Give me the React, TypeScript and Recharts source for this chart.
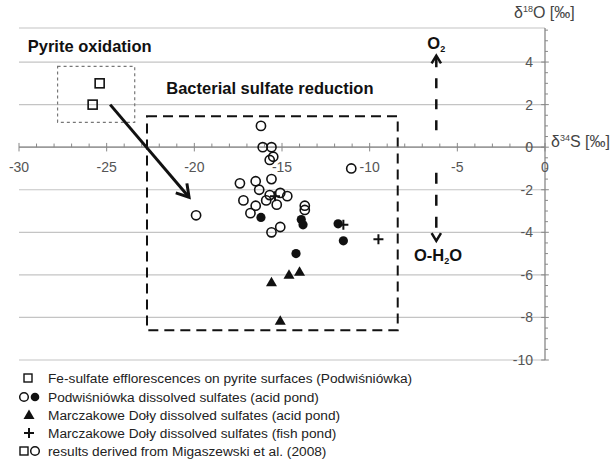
import React from "react";
import {
  ScatterChart,
  Scatter,
  XAxis,
  YAxis,
  CartesianGrid,
  ReferenceLine,
  ReferenceArea,
  ReferenceDot,
} from "recharts";

// axis ticks
const xTicks = [-30, -25, -20, -15, -10, -5, 0];
const xMinorTicks = Array.from({ length: 31 }, (_, i) => -30 + i).filter((v) => v % 5 !== 0);
const yTicks = [-10, -8, -6, -4, -2, 0, 2, 4];
const yMinorTicks = Array.from({ length: 32 }, (_, i) => -10 + i * 0.5).filter((v) => v % 2 !== 0);

// Fe-sulfate efflorescences on pyrite surfaces (Migaszewski et al. 2008)
const feSulfate = [
  { x: -25.4, y: 3.0 },
  { x: -25.8, y: 2.0 },
];

// Podwiśniówka dissolved sulfates, Migaszewski et al. (2008) - open circles
const podwOpen = [
  { x: -16.2, y: 1.0 },
  { x: -16.1, y: 0.0 },
  { x: -15.6, y: 0.0 },
  { x: -15.5, y: -0.45 },
  { x: -15.7, y: -0.6 },
  { x: -15.6, y: -1.5 },
  { x: -17.4, y: -1.7 },
  { x: -16.5, y: -1.6 },
  { x: -16.3, y: -2.0 },
  { x: -15.7, y: -2.25 },
  { x: -15.1, y: -2.15 },
  { x: -14.7, y: -2.3 },
  { x: -17.2, y: -2.5 },
  { x: -16.5, y: -2.75 },
  { x: -15.9, y: -2.5 },
  { x: -15.3, y: -2.7 },
  { x: -16.8, y: -3.1 },
  { x: -15.6, y: -4.0 },
  { x: -15.1, y: -3.75 },
  { x: -13.7, y: -2.75 },
  { x: -13.7, y: -2.95 },
  { x: -11.05, y: -1.0 },
  { x: -19.9, y: -3.2 },
];

// Podwiśniówka dissolved sulfates (acid pond) - filled circles
const podwFilled = [
  { x: -16.2, y: -3.3 },
  { x: -13.9, y: -3.4 },
  { x: -13.8, y: -3.65 },
  { x: -11.8, y: -3.6 },
  { x: -11.5, y: -4.4 },
  { x: -14.2, y: -5.0 },
];

// Marczakowe Doły (acid pond)
const marczAcid = [
  { x: -14.0, y: -5.85 },
  { x: -14.6, y: -6.0 },
  { x: -15.6, y: -6.35 },
  { x: -15.1, y: -8.15 },
];

// Marczakowe Doły (fish pond)
const marczFish = [
  { x: -11.5, y: -3.65 },
  { x: -9.5, y: -4.33 },
  { x: -15.4, y: -2.3 },
];

// annotation boxes and arrows
const pyriteBox = { x1: -27.8, x2: -23.4, y1: 1.17, y2: 3.8 };
const bacterialBox = { x1: -22.7, x2: -8.4, y1: -8.6, y2: 1.45 };
const mainArrow = [{ x: -24.8, y: 2.0 }, { x: -20.3, y: -2.35 }];
const o2Arrow = [{ x: -6.2, y: 0.8 }, { x: -6.2, y: 4.3 }];
const h2oArrow = [{ x: -6.2, y: -1.2 }, { x: -6.2, y: -4.4 }];

const FONT = "'Liberation Sans', Arial, sans-serif";
const INK = "#111";

function arrowShape(width: number, dash?: string, head = 11) {
  return (p: any) => {
    const { x1, y1, x2, y2 } = p;
    const a = Math.atan2(y2 - y1, x2 - x1);
    const s = 0.55;
    const ax = x2 - head * Math.cos(a - s);
    const ay = y2 - head * Math.sin(a - s);
    const bx = x2 - head * Math.cos(a + s);
    const by = y2 - head * Math.sin(a + s);
    return (
      <g>
        <line x1={x1} y1={y1} x2={x2} y2={y2} stroke={INK} strokeWidth={width} strokeDasharray={dash} />
        <polyline points={`${ax},${ay} ${x2},${y2} ${bx},${by}`} fill="none" stroke={INK} strokeWidth={width} />
      </g>
    );
  };
}

function textAt(render: (x: number, y: number) => React.ReactNode) {
  return (p: any) => {
    const vb = p.viewBox || {};
    return render(vb.x + (vb.width || 0) / 2, vb.y + (vb.height || 0) / 2);
  };
}

const openCircle = (p: any) => (
  <circle cx={p.cx} cy={p.cy} r={4.6} fill="none" stroke={INK} strokeWidth={1.6} />
);
const filledCircle = (p: any) => <circle cx={p.cx} cy={p.cy} r={4.6} fill={INK} />;
const openSquare = (p: any) => (
  <rect x={p.cx - 4.5} y={p.cy - 4.5} width={9} height={9} fill="none" stroke={INK} strokeWidth={1.6} />
);
const triangle = (p: any) => (
  <polygon points={`${p.cx},${p.cy - 5.5} ${p.cx + 5.5},${p.cy + 4} ${p.cx - 5.5},${p.cy + 4}`} fill={INK} />
);
const plus = (p: any) => (
  <path d={`M${p.cx - 5},${p.cy}H${p.cx + 5}M${p.cx},${p.cy - 5}V${p.cy + 5}`} stroke={INK} strokeWidth={2} />
);

function LegendRow({ y, symbol, text }: { y: number; symbol: React.ReactNode; text: string }) {
  return (
    <div style={{ position: "absolute", left: 0, top: y - 9, height: 18, display: "flex", alignItems: "center" }}>
      <svg width={44} height={18}>{symbol}</svg>
      <span style={{ marginLeft: 4 }}>{text}</span>
    </div>
  );
}

const boldText = (label: React.ReactNode, anchor: "start" | "middle" = "start") =>
  textAt((x, y) => (
    <text x={x} y={y + 6} textAnchor={anchor} fontSize={16.5} fontWeight="bold" fill={INK} fontFamily={FONT}>
      {label}
    </text>
  ));

export default function App() {
  return (
    <div
      style={{
        position: "absolute",
        left: 0,
        top: 0,
        width: 614,
        height: 463,
        background: "#fff",
        fontFamily: FONT,
        overflow: "hidden",
      }}
    >
      <ScatterChart width={614} height={463} margin={{ top: 28, right: 69, bottom: 103, left: 19 }}>
        <CartesianGrid vertical={false} stroke="#c4c4c4" strokeWidth={1.2} />
        <XAxis type="number" dataKey="x" domain={[-30, 0]} ticks={xTicks} hide />
        <YAxis
          type="number"
          dataKey="y"
          domain={[-10, 5.6]}
          ticks={yTicks}
          orientation="right"
          mirror
          tickLine={false}
          tickMargin={6}
          axisLine={{ stroke: "#888", strokeWidth: 1.3 }}
          tick={{ fill: "#555", fontSize: 14, fontFamily: FONT }}
        />
        <ReferenceLine y={0} stroke="#888" strokeWidth={1.3} />
        {xMinorTicks.map((v) => (
          <ReferenceLine key={`xm${v}`} segment={[{ x: v, y: 0 }, { x: v, y: 0.17 }]} stroke="#888" />
        ))}
        {xTicks.map((v) => (
          <ReferenceLine key={`xM${v}`} segment={[{ x: v, y: -0.2 }, { x: v, y: 0.2 }]} stroke="#888" ifOverflow="visible" />
        ))}
        {yMinorTicks.map((v) => (
          <ReferenceLine key={`ym${v}`} segment={[{ x: 0, y: v }, { x: 0.17, y: v }]} stroke="#888" ifOverflow="visible" />
        ))}
        {yTicks.map((v) => (
          <ReferenceLine key={`yM${v}`} segment={[{ x: -0.22, y: v }, { x: 0.22, y: v }]} stroke="#888" ifOverflow="visible" />
        ))}
        {xTicks.map((v) => (
          <ReferenceDot
            key={`xl${v}`}
            x={v}
            y={0}
            r={0}
            fill="none"
            stroke="none"
            label={textAt((x, y) => (
              <text x={x} y={y + 25} textAnchor="middle" fontSize={14} fill="#555" fontFamily={FONT}>
                {v}
              </text>
            ))}
          />
        ))}

        <ReferenceArea {...pyriteBox} fill="none" stroke="#777" strokeWidth={1.2} strokeDasharray="3 3" />
        <ReferenceArea {...bacterialBox} fill="none" stroke={INK} strokeWidth={2} strokeDasharray="10 6" />

        <ReferenceLine segment={mainArrow} shape={arrowShape(3, undefined, 14)} />
        <ReferenceLine segment={o2Arrow} shape={arrowShape(2.5, "10 11", 9)} />
        <ReferenceLine segment={h2oArrow} shape={arrowShape(2.5, "11 11", 9)} />

        <ReferenceDot x={-29.5} y={4.74} r={0} fill="none" stroke="none" label={boldText("Pyrite oxidation")} />
        <ReferenceDot x={-21.6} y={2.77} r={0} fill="none" stroke="none" label={boldText("Bacterial sulfate reduction")} />
        <ReferenceDot
          x={-6.2}
          y={4.88}
          r={0}
          fill="none"
          stroke="none"
          label={boldText(
            <>
              O<tspan fontSize={9} dy={3}>2</tspan>
            </>,
            "middle"
          )}
        />
        <ReferenceDot
          x={-6.1}
          y={-5.07}
          r={0}
          fill="none"
          stroke="none"
          label={boldText(
            <>
              O-H<tspan fontSize={9} dy={3}>2</tspan>
              <tspan dy={-3}>O</tspan>
            </>,
            "middle"
          )}
        />

        <Scatter data={feSulfate} shape={openSquare} isAnimationActive={false} />
        <Scatter data={podwOpen} shape={openCircle} isAnimationActive={false} />
        <Scatter data={podwFilled} shape={filledCircle} isAnimationActive={false} />
        <Scatter data={marczAcid} shape={triangle} isAnimationActive={false} />
        <Scatter data={marczFish} shape={plus} isAnimationActive={false} />
      </ScatterChart>

      <div style={{ position: "absolute", left: 514, top: 4, fontSize: 16, color: "#444", whiteSpace: "nowrap" }}>
        δ<sup style={{ fontSize: 9 }}>18</sup>O [‰]
      </div>
      <div style={{ position: "absolute", left: 551, top: 133, fontSize: 16, color: "#444", whiteSpace: "nowrap" }}>
        δ<sup style={{ fontSize: 9 }}>34</sup>S [‰]
      </div>

      <div style={{ position: "absolute", left: 0, top: 0, fontSize: "13.7px", color: "#222", whiteSpace: "nowrap" }}>
        <LegendRow
          y={378}
          symbol={<rect x={24} y={5} width={8} height={8} fill="none" stroke={INK} strokeWidth={1.4} />}
          text="Fe-sulfate efflorescences on pyrite surfaces (Podwiśniówka)"
        />
        <LegendRow
          y={397}
          symbol={
            <g>
              <circle cx={24} cy={9} r={4.3} fill="none" stroke={INK} strokeWidth={1.5} />
              <circle cx={35} cy={9} r={4.3} fill={INK} />
            </g>
          }
          text="Podwiśniówka dissolved sulfates (acid pond)"
        />
        <LegendRow
          y={415}
          symbol={<polygon points="29,3.5 34.5,13 23.5,13" fill={INK} />}
          text="Marczakowe Doły dissolved sulfates (acid pond)"
        />
        <LegendRow
          y={433}
          symbol={<path d="M24,9H34M29,4V14" stroke={INK} strokeWidth={2} />}
          text="Marczakowe Doły dissolved sulfates (fish pond)"
        />
        <LegendRow
          y={451}
          symbol={
            <g>
              <rect x={20} y={5} width={8} height={8} fill="none" stroke={INK} strokeWidth={1.4} />
              <circle cx={35} cy={9} r={4.3} fill="none" stroke={INK} strokeWidth={1.5} />
            </g>
          }
          text="results derived from Migaszewski et al. (2008)"
        />
      </div>
    </div>
  );
}
